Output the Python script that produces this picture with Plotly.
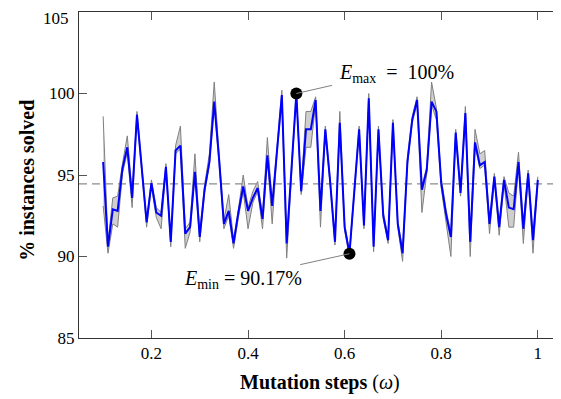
import plotly.graph_objects as go

# mutation steps (x)
steps = [0.10, 0.11, 0.12, 0.13, 0.14, 0.15, 0.16, 0.17, 0.18, 0.19,
         0.20, 0.21, 0.22, 0.23, 0.24, 0.25, 0.26, 0.27, 0.28, 0.29,
         0.30, 0.31, 0.32, 0.33, 0.34, 0.35, 0.36, 0.37, 0.38, 0.39,
         0.40, 0.41, 0.42, 0.43, 0.44, 0.45, 0.46, 0.47, 0.48, 0.49,
         0.50, 0.51, 0.52, 0.53, 0.54, 0.55, 0.56, 0.57, 0.58, 0.59,
         0.60, 0.61, 0.62, 0.63, 0.64, 0.65, 0.66, 0.67, 0.68, 0.69,
         0.70, 0.71, 0.72, 0.73, 0.74, 0.75, 0.76, 0.77, 0.78, 0.79,
         0.80, 0.81, 0.82, 0.83, 0.84, 0.85, 0.86, 0.87, 0.88, 0.89,
         0.90, 0.91, 0.92, 0.93, 0.94, 0.95, 0.96, 0.97, 0.98, 0.99,
         1.00]

mean_solved = [95.8, 90.6, 92.9, 92.8, 95.4, 96.7, 93.6, 98.7, 95.4, 92.1,
               94.5, 92.7, 92.5, 95.5, 90.9, 96.5, 96.8, 91.4, 91.8, 95.2,
               91.2, 94.1, 95.8, 99.5, 96.0, 92.0, 92.8, 90.8, 92.7, 94.3,
               92.8, 93.6, 94.2, 92.3, 96.2, 93.1, 96.5, 99.9, 90.8, 95.4,
               100.0, 94.0, 97.8, 97.8, 99.6, 92.8, 97.8, 94.6, 90.9, 98.2,
               91.8, 90.17, 94.0, 97.8, 91.9, 99.7, 90.6, 97.8, 92.5, 91.0,
               98.2, 92.0, 90.2, 95.8, 98.4, 99.6, 94.1, 95.3, 99.5, 98.9,
               94.5, 92.6, 91.2, 97.6, 93.9, 98.8, 90.9, 97.0, 95.6, 95.8,
               92.0, 94.9, 91.8, 94.7, 93.0, 92.9, 95.8, 91.7, 95.1, 91.0,
               94.7]

min_solved = [93.1, 90.2, 92.0, 91.8, 95.1, 96.4, 93.0, 98.5, 95.2, 91.8,
              94.3, 92.4, 91.7, 95.3, 90.6, 96.3, 96.6, 90.5, 91.5, 95.0,
              90.9, 93.9, 95.6, 99.3, 95.7, 91.7, 92.5, 90.5, 92.4, 94.0,
              91.7, 93.3, 94.0, 91.7, 96.0, 92.0, 96.3, 99.6, 89.9, 95.2,
              99.9, 93.8, 96.7, 96.7, 99.4, 91.8, 97.6, 94.4, 90.7, 98.0,
              91.6, 90.0, 93.8, 97.6, 91.7, 99.5, 90.3, 97.6, 92.3, 90.8,
              98.0, 91.8, 89.7, 95.6, 98.2, 99.4, 92.7, 95.1, 99.3, 98.4,
              94.2, 92.0, 90.0, 97.4, 93.7, 98.6, 90.0, 96.8, 95.4, 95.6,
              91.4, 94.7, 91.3, 94.5, 91.8, 91.8, 95.6, 90.8, 94.9, 90.2,
              94.5]

max_solved = [98.6, 90.9, 93.6, 93.7, 95.7, 97.4, 93.9, 98.9, 95.6, 92.3,
              94.7, 93.0, 92.7, 95.7, 91.1, 96.8, 98.0, 91.7, 92.1, 96.3,
              91.5, 94.4, 96.3, 100.7, 96.3, 92.2, 93.8, 91.0, 92.9, 95.0,
              93.0, 94.0, 94.6, 92.5, 97.3, 93.3, 96.7, 100.2, 91.0, 95.6,
              100.1, 94.2, 98.9, 98.9, 99.8, 93.0, 98.0, 94.8, 91.1, 98.9,
              92.0, 90.3, 94.2, 98.0, 92.1, 100.0, 90.8, 98.0, 92.7, 91.2,
              98.4, 92.2, 90.4, 96.1, 98.6, 99.8, 94.3, 95.5, 100.7, 99.1,
              94.8, 92.9, 91.4, 97.8, 94.1, 99.2, 91.1, 97.8, 96.3, 96.5,
              92.2, 95.1, 92.0, 94.9, 93.9, 93.7, 96.4, 91.9, 95.3, 91.2,
              94.9]

overall_mean = 94.45
e_max = (0.50, 100.0)
e_min = (0.61, 90.17)

x_ticks = [0.2, 0.4, 0.6, 0.8, 1.0]
x_tick_labels = ["0.2", "0.4", "0.6", "0.8", "1"]
y_ticks = [85, 90, 95, 100, 105]
y_tick_labels = ["85", "90", "95", "100", "105"]

FONT = "Liberation Serif"
GRAY_LINE = "#808080"

fig = go.Figure()

# band (min/max)
fig.add_trace(go.Scatter(x=steps, y=min_solved, mode="lines",
                         line=dict(color=GRAY_LINE, width=1), showlegend=False,
                         hoverinfo="skip"))
fig.add_trace(go.Scatter(x=steps, y=max_solved, mode="lines", fill="tonexty",
                         fillcolor="rgba(195,195,195,0.8)",
                         line=dict(color=GRAY_LINE, width=1), showlegend=False,
                         hoverinfo="skip"))
# mean line
fig.add_trace(go.Scatter(x=steps, y=mean_solved, mode="lines",
                         line=dict(color="#0000ff", width=2), showlegend=False))

# dashed overall mean
fig.add_shape(type="line", xref="paper", x0=0, x1=1, yref="y",
              y0=overall_mean, y1=overall_mean,
              line=dict(color="#8c8c8c", width=1.2, dash="8px,5px"), layer="below")

# pins
fig.add_shape(type="line", x0=e_max[0], y0=e_max[1], x1=0.574, y1=100.5,
              line=dict(color=GRAY_LINE, width=1))
fig.add_shape(type="line", x0=e_min[0], y0=e_min[1], x1=0.508, y1=89.5,
              line=dict(color=GRAY_LINE, width=1))

fig.add_trace(go.Scatter(x=[e_max[0], e_min[0]], y=[e_max[1], e_min[1]], mode="markers",
                         marker=dict(color="black", size=12), showlegend=False))

fig.add_annotation(x=0.584, y=101.2, xref="x", yref="y", xanchor="left", yanchor="middle",
                   text="<i>E</i><sub>max</sub>  =  100%", showarrow=False,
                   font=dict(family=FONT, size=20, color="black"))
fig.add_annotation(x=0.516, y=88.6, xref="x", yref="y", xanchor="right", yanchor="middle",
                   text="<i>E</i><sub>min</sub> = 90.17%", showarrow=False,
                   font=dict(family=FONT, size=20, color="black"))

# axis titles
fig.add_annotation(x=-0.108, y=0.485, xref="paper", yref="paper", textangle=-90,
                   text="<b>% instances solved</b>", showarrow=False,
                   xanchor="center", yanchor="middle",
                   font=dict(family=FONT, size=20, color="black"))
fig.add_annotation(x=0.5, y=-0.138, xref="paper", yref="paper",
                   text="<b>Mutation steps</b> (<i>ω</i>)", showarrow=False,
                   xanchor="center", yanchor="middle",
                   font=dict(family=FONT, size=20, color="black"))

# the top tick label sits at the figure edge, where plotly drops it; draw it as text
fig.add_annotation(x=0, y=y_ticks[-1], xref="paper", yref="y", xanchor="right",
                   yanchor="top", yshift=5, xshift=-8, text=y_tick_labels[-1],
                   showarrow=False, font=dict(family=FONT, size=17, color="black"))

# the page body adds an 8px offset; the figure is sized to compensate
fig.update_layout(
    width=553, height=391,
    margin=dict(l=71, r=0, t=4, b=61),
    paper_bgcolor="white", plot_bgcolor="white",
    font=dict(family=FONT, size=17, color="black"),
    xaxis=dict(range=[0.05, 1.048], tickvals=x_ticks, ticktext=x_tick_labels,
               ticks="inside", ticklen=8, tickcolor="#555", showgrid=False,
               zeroline=False, showline=True, linecolor="#333", linewidth=1,
               mirror="ticks", automargin=False, tickfont=dict(family=FONT, size=17)),
    yaxis=dict(range=[85, 105], tickvals=y_ticks, ticktext=y_tick_labels[:-1] + [""],
               ticks="inside", ticklen=8, tickcolor="#555", showgrid=False,
               zeroline=False, showline=True, linecolor="#333", linewidth=1,
               mirror="ticks", automargin=False, tickfont=dict(family=FONT, size=17)),
)

fig.write_html("out.html")
